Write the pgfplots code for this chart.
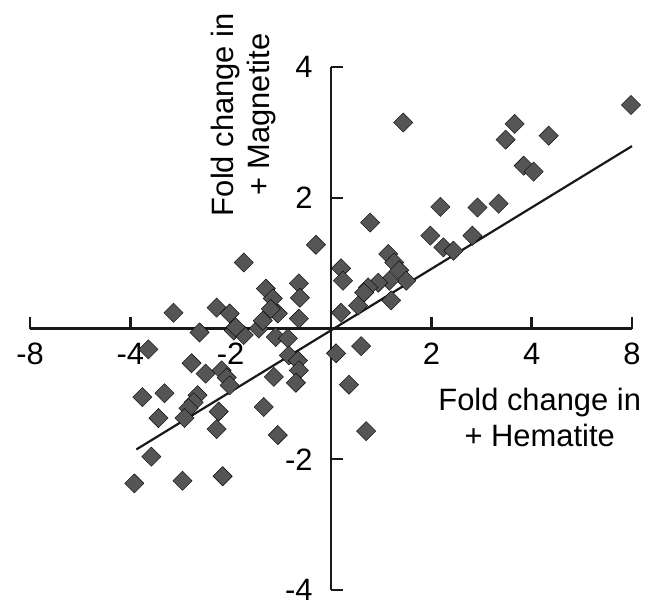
\documentclass[border=0pt]{standalone}
\usepackage{pgfplots}
\pgfplotsset{compat=1.18}
\usepackage{fontspec}
\setmainfont{Liberation Sans}
\definecolor{ptcol}{RGB}{85,85,85}
\begin{document}
\fontsize{31}{36}\selectfont
\begin{tikzpicture}
\useasboundingbox (-30bp,-22bp) rectangle (626bp,590bp);
\begin{axis}[at={(0,0)}, anchor=south west,
  scale only axis, width=602bp, height=523bp,
  xmin=-3, xmax=3, ymin=-4, ymax=4,
  axis lines=middle, axis line style={-, line width=2.4bp, black!90},
  xtick={-3,-2,-1,1,2,3}, xticklabels={-8,-4,-2,2,4,8},
  ytick={-4,-2,2,4}, yticklabels={-4,-2,2,4},
  hide obscured x ticks=false, hide obscured y ticks=false,
  tick align=inside, major tick length=12bp,
  tick style={line width=2.4bp, black!90},
  xticklabel style={anchor=north, yshift=-4bp},
  yticklabel style={anchor=east, xshift=-8bp},
  clip=false,
  xlabel={Fold change in\\+ Hematite},
  xlabel style={at={(axis cs:2.08,-1.36)}, anchor=center, align=center},
  ylabel={Fold change in\\+ Magnetite},
  ylabel style={at={(axis cs:-0.876,3.27)}, anchor=center, align=center, rotate=90},
]
\addplot[only marks, mark=square*, mark size=6.8bp, mark options={rotate=45, fill=ptcol, draw=none}] table {
x y
2.99 3.42
0.72 3.15
1.83 3.13
1.74 2.89
2.17 2.95
1.92 2.49
2.02 2.40
1.46 1.85
1.67 1.91
1.09 1.86
1.41 1.42
0.99 1.42
1.12 1.24
1.22 1.19
0.39 1.62
-0.15 1.28
0.57 1.14
0.63 1.01
0.68 0.89
0.75 0.73
0.10 0.92
0.12 0.73
0.58 0.73
0.47 0.70
0.37 0.63
0.33 0.55
0.60 0.43
0.27 0.35
0.10 0.24
-0.87 1.01
-1.57 0.24
-1.14 0.32
-1.01 0.23
-1.31 -0.06
-0.97 -0.03
-0.65 0.61
-0.58 0.46
-0.53 0.23
-0.60 0.30
-0.72 0.00
-0.68 0.12
-0.87 -0.10
-0.95 0.02
-0.32 0.69
-0.31 0.47
-0.32 0.15
-0.55 -0.13
-0.43 -0.15
-1.82 -0.32
-1.39 -0.53
-1.25 -0.69
-1.09 -0.64
-1.04 -0.75
-1.01 -0.87
-1.88 -1.05
-1.66 -0.99
-1.33 -1.02
-1.37 -1.13
-1.42 -1.22
-1.46 -1.37
-1.72 -1.37
-1.12 -1.27
-1.14 -1.54
-0.67 -1.20
-0.53 -1.63
-0.57 -0.74
-0.42 -0.41
-0.33 -0.49
-0.32 -0.64
-0.35 -0.83
-1.79 -1.96
-1.96 -2.37
-1.48 -2.33
-1.08 -2.26
0.05 -0.38
0.30 -0.27
0.18 -0.86
0.35 -1.57
};
\addplot[black!90, line width=2.2bp] coordinates {(-1.94,-1.85) (3,2.79)};
\end{axis}
\end{tikzpicture}
\end{document}
